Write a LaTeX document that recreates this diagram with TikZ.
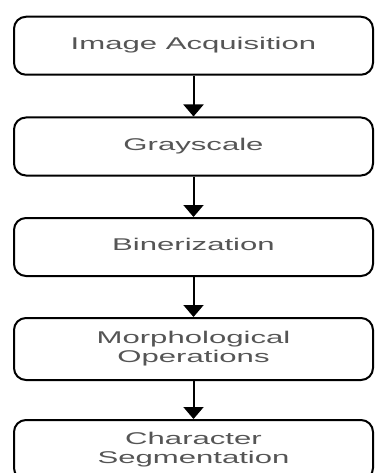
\documentclass[tikz,border=0pt]{standalone}
\usepackage{fontspec}
\setmainfont{Liberation Sans}
\usepackage{graphicx}
\usepackage{tikz}
\usetikzlibrary{arrows.meta}
\usetikzlibrary{positioning}
\definecolor{labelgray}{RGB}{85,85,85}
\newcommand{\wide}[1]{\scalebox{1.83}[1]{\begin{tabular}{@{}c@{}}#1\end{tabular}}}
\tikzstyle{stage}=[draw=black, line width=2pt, rounded corners=12pt, fill=white,
    minimum width=359pt, minimum height=58pt, inner sep=0pt,
    text=labelgray, font=\fontsize{17}{19}\selectfont]
\tikzstyle{flow}=[draw=black, line width=2pt, -{Triangle[width=20pt,length=12pt]}]

\begin{document}
\begin{tikzpicture}[x=1pt, y=-1pt]
\useasboundingbox (0,0) rectangle (378,473);
\clip (0,0) rectangle (378,473);
\node[stage] (acq) at (193.5,45.75){\wide{Image Acquisition}};
\node[stage] (gray) at (193.5,146.5){\wide{Grayscale}};
\node[stage] (bin) at (193.5,247){\wide{Binerization}};
\node[stage, minimum height=62pt] (morph) at (193.5,349){\wide{Morphological\\Operations}};
\node[stage, minimum height=60pt] (seg) at (193.5,450){\wide{Character\\Segmentation}};
\draw[flow](acq) -- (gray);
\draw[flow](gray) -- (bin);
\draw[flow](bin) -- (morph);
\draw[flow](morph) -- (seg);
\end{tikzpicture}
\end{document}
